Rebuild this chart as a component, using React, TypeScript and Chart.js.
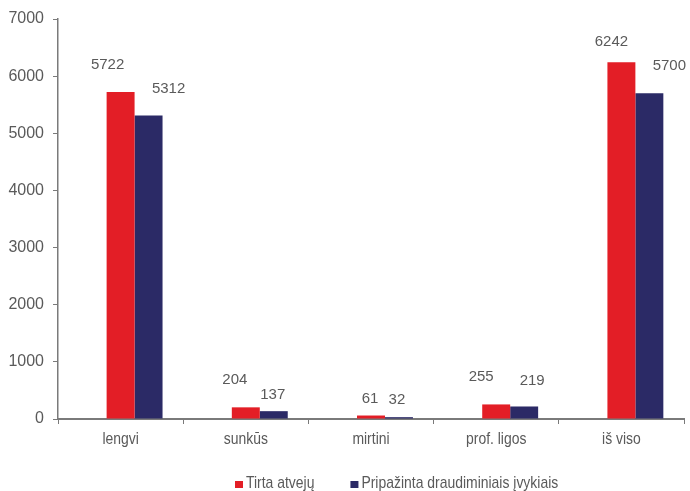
import React, { useEffect, useRef } from "react";
import { Chart, registerables } from "chart.js";

Chart.register(...registerables);

// ---- data ----
const categories = ["lengvi", "sunkūs", "mirtini", "prof. ligos", "iš viso"];
const tirtaAtveju = [5722, 204, 61, 255, 6242];
const pripazinta = [5312, 137, 32, 219, 5700];
const seriesNames = ["Tirta atvejų", "Pripažinta draudiminiais įvykiais"];
const yMin = 0;
const yMax = 7000;
const yStep = 1000;

// ---- styling ----
const RED = "#E31E26";
const NAVY = "#2B2A66";
const TEXT = "#5a5a5a";
const AXIS = "#7a7a7a";
const NUM_FONT = "'Liberation Sans', Arial, sans-serif";
const COND_FONT = "'Liberation Sans', Arial, sans-serif";
const COND_SCALE = 0.82; // horizontal squeeze to mimic a condensed face
// value-label offsets (px) from the top centre of each bar
const labelOffsets = [
  [[-13, -27], [-11, -27], [-1, -17], [-15, -28], [-10, -20]],
  [[20, -27], [-1, -16], [-2, -17], [8, -26], [20, -27]],
];

function condensedText(ctx: CanvasRenderingContext2D, text: string, x: number, y: number, align: "left" | "center") {
  ctx.save();
  ctx.translate(x, y);
  ctx.scale(COND_SCALE, 1);
  ctx.textAlign = align;
  ctx.fillText(text, 0, 0);
  ctx.restore();
}

const valueLabels = {
  id: "valueLabels",
  afterDatasetsDraw(chart: any) {
    const ctx = chart.ctx;
    ctx.save();
    ctx.font = `15px ${NUM_FONT}`;
    ctx.fillStyle = TEXT;
    ctx.textAlign = "center";
    ctx.textBaseline = "middle";
    [1, 2].forEach((di, s) => {
      const meta = chart.getDatasetMeta(di);
      const data = chart.data.datasets[di].data;
      meta.data.forEach((el: any, i: number) => {
        const [dx, dy] = labelOffsets[s][i];
        ctx.fillText(String(data[i]), el.x + dx, el.y + dy);
      });
    });
    ctx.restore();
  },
};

const categoryLabels = {
  id: "categoryLabels",
  afterDraw(chart: any) {
    const ctx = chart.ctx;
    const xs = chart.scales.x;
    ctx.save();
    ctx.font = `17px ${COND_FONT}`;
    ctx.fillStyle = TEXT;
    ctx.textBaseline = "alphabetic";
    const labels = chart.data.labels;
    labels.forEach((lab: string, i: number) => {
      condensedText(ctx, lab, xs.getPixelForTick(i), xs.top + 25, "center");
    });
    ctx.restore();
  },
};

const customLegend = {
  id: "customLegend",
  afterDraw(chart: any) {
    const ctx = chart.ctx;
    ctx.save();
    ctx.font = `17px ${COND_FONT}`;
    ctx.textBaseline = "alphabetic";
    let x = 235;
    const baseY = 488;
    [1, 2].forEach((di) => {
      const ds = chart.data.datasets[di];
      ctx.fillStyle = ds.backgroundColor;
      ctx.fillRect(x, baseY - 7, 8, 7);
      ctx.fillStyle = TEXT;
      const tx = x + 11;
      condensedText(ctx, ds.label, tx, baseY, "left");
      x = tx + ctx.measureText(ds.label).width * COND_SCALE + 36;
    });
    ctx.restore();
  },
};

export default function App() {
  const ref = useRef<HTMLCanvasElement | null>(null);

  useEffect(() => {
    if (!ref.current) return;
    const chart = new Chart(ref.current, {
      type: "bar",
      data: {
        labels: categories,
        datasets: [
          { label: "", data: categories.map(() => null), backgroundColor: "rgba(0,0,0,0)" },
          { label: seriesNames[0], data: tirtaAtveju, backgroundColor: RED },
          { label: seriesNames[1], data: pripazinta, backgroundColor: NAVY },
        ],
      },
      options: {
        responsive: false,
        animation: false,
        layout: { padding: { left: 0, right: 6, top: 19, bottom: 32 } },
        datasets: {
          bar: { barPercentage: 1, categoryPercentage: 0.67 },
        },
        plugins: {
          legend: { display: false },
          tooltip: { enabled: false },
        },
        scales: {
          x: {
            grid: {
              display: true,
              drawOnChartArea: false,
              drawTicks: true,
              tickLength: 5,
              color: AXIS,
              offset: true,
            },
            border: { display: true, color: AXIS, width: 2 },
            ticks: { display: false },
            afterFit(scale: any) {
              scale.height = 40;
            },
          },
          y: {
            min: yMin,
            max: yMax,
            grid: {
              display: true,
              drawOnChartArea: false,
              drawTicks: true,
              tickLength: 5,
              color: AXIS,
            },
            border: { display: true, color: AXIS, width: 1.5 },
            ticks: {
              stepSize: yStep,
              color: TEXT,
              font: { family: NUM_FONT, size: 16 },
              padding: 9,
              callback: (v: any) => String(v),
            },
            afterFit(scale: any) {
              scale.width = 58;
            },
          },
        },
      },
      plugins: [valueLabels, categoryLabels, customLegend],
    });
    return () => chart.destroy();
  }, []);

  return (
    <div style={{ position: "fixed", left: 0, top: 0, width: 690, height: 491, background: "#fff" }}>
      <canvas ref={ref} width={690} height={491} />
    </div>
  );
}
